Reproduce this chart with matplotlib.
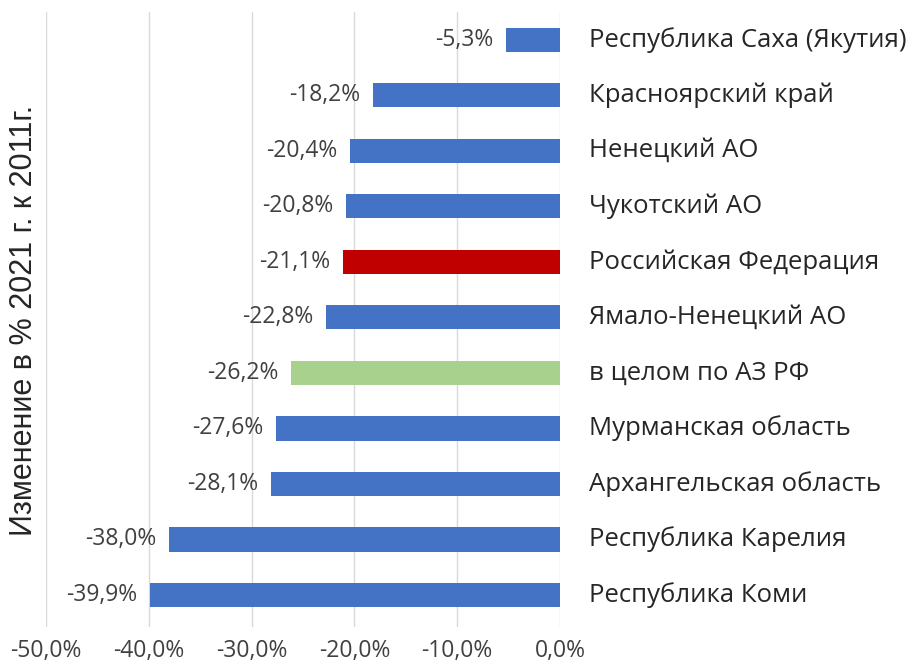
import matplotlib
matplotlib.use("Agg")
import matplotlib.pyplot as plt
from matplotlib.ticker import FuncFormatter

categories = ["Республика Саха (Якутия)", "Красноярский край", "Ненецкий АО",
              "Чукотский АО", "Российская Федерация", "Ямало-Ненецкий АО",
              "в целом по АЗ РФ", "Мурманская область", "Архангельская область",
              "Республика Карелия", "Республика Коми"]
values = [-5.3, -18.2, -20.4, -20.8, -21.1, -22.8, -26.2, -27.6, -28.1, -38.0, -39.9]
highlight = {"Российская Федерация": "#C00000", "в целом по АЗ РФ": "#A9D18E"}
base_color = "#4472C4"
xticks = [-50, -40, -30, -20, -10, 0]
ylabel = "Изменение в % 2021 г. к 2011г."

plt.rcParams['font.family'] = ['Open Sans', 'DejaVu Sans']

fig = plt.figure(figsize=(9.13, 6.66), dpi=100)
ax = fig.add_axes([46/913, 1-627/666, (560-46)/913, (627-12)/666])

n = len(categories)
ypos = [n - 1 - i for i in range(n)]
colors = [highlight.get(c, base_color) for c in categories]
ax.barh(ypos, values, height=0.44, color=colors, zorder=3)

for y, v, c in zip(ypos, values, categories):
    ax.annotate(f"{v:.1f}%".replace(".", ","), xy=(v, y), xytext=(-9, 0),
                textcoords="offset points", ha="right", va="center",
                fontsize=16.5, color="#404040")
    ax.annotate(c, xy=(0, y), xytext=(21, 0), textcoords="offset points",
                ha="left", va="center", fontsize=18.5, color="#262626",
                annotation_clip=False)

ax.set_xlim(-50, 0)
ax.set_ylim(-0.58, n - 0.5)
ax.set_xticks(xticks)
ax.xaxis.set_major_formatter(FuncFormatter(lambda x, p: f"{x:.1f}%".replace(".", ",")))
ax.set_yticks([])
ax.tick_params(axis='x', length=0, pad=9, labelsize=16.5, labelcolor="#404040")
ax.grid(axis='x', color="#D9D9D9", linewidth=1, zorder=0)
for s in ax.spines.values():
    s.set_visible(False)

fig.text(24/913, 1-320/666, ylabel, rotation=90, ha="center", va="center",
         fontsize=22, color="#262626", family=['Liberation Sans', 'DejaVu Sans'])

fig.savefig("out.png", dpi=100)
